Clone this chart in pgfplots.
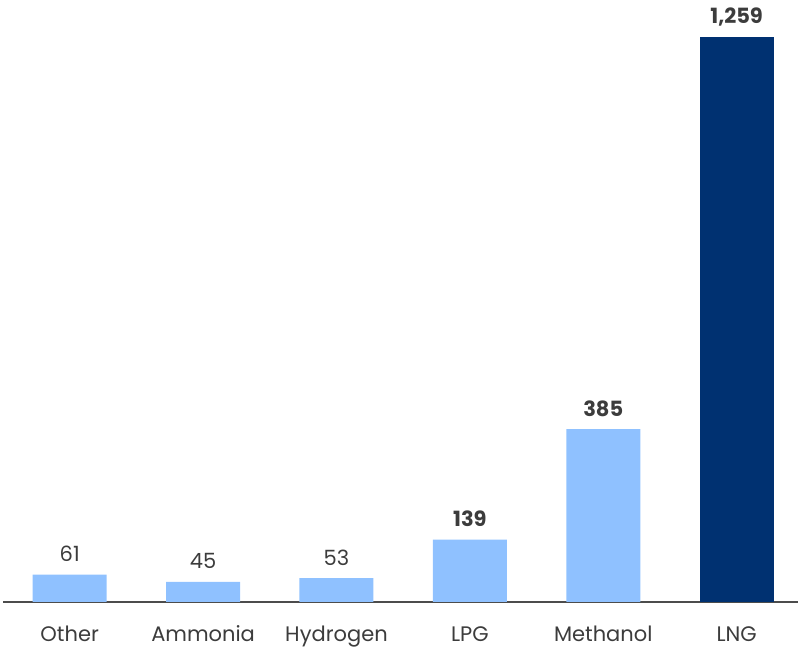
\documentclass[border=0pt]{standalone}
\usepackage{pgfplots}
\pgfplotsset{compat=1.18}
\usepackage{fontspec}
\setmainfont{Poppins}
\definecolor{lightb}{HTML}{8FC1FF}
\definecolor{darkb}{HTML}{003171}
\definecolor{txt}{HTML}{3C3C3C}
\begin{document}
\begin{tikzpicture}[x=1pt,y=1pt]
\begin{axis}[
  scale only axis,
  width=795pt, height=600pt,
  xmin=-0.5, xmax=5.46,
  ymin=0, ymax=1337,
  axis x line*=bottom,
  axis y line=none,
  x axis line style={draw=black!70, line width=1.2pt, -},
  xtick={0,1,2,3,4,5},
  xticklabels={Other,Ammonia,Hydrogen,LPG,Methanol,LNG},
  xtick style={draw=none},
  xticklabel style={font=\fontsize{21}{25}\selectfont, text=txt, anchor=base, yshift=-35pt, inner sep=0pt},
  ybar, bar width=74pt, bar shift=0pt,
  nodes near coords,
  point meta=explicit symbolic,
  every node near coord/.append style={text=txt, font=\fontsize{21}{25}\selectfont, anchor=base, inner sep=0pt, yshift=13pt},
  clip=false,
]
\addplot[fill=lightb, draw=none] coordinates {(0,61) [61] (1,45) [45] (2,53) [53]};
\addplot[fill=lightb, draw=none, every node near coord/.append style={font=\fontsize{21}{25}\selectfont\bfseries}] coordinates {(3,139) [139] (4,385) [385]};
\addplot[fill=darkb, draw=none, every node near coord/.append style={font=\fontsize{21}{25}\selectfont\bfseries}] coordinates {(5,1259) [{1,259}]};
\end{axis}
\pgfresetboundingbox
\path (current axis.south west) ++(-3pt,-50pt) rectangle ([yshift=2pt]current axis.north east);
\end{tikzpicture}
\end{document}
